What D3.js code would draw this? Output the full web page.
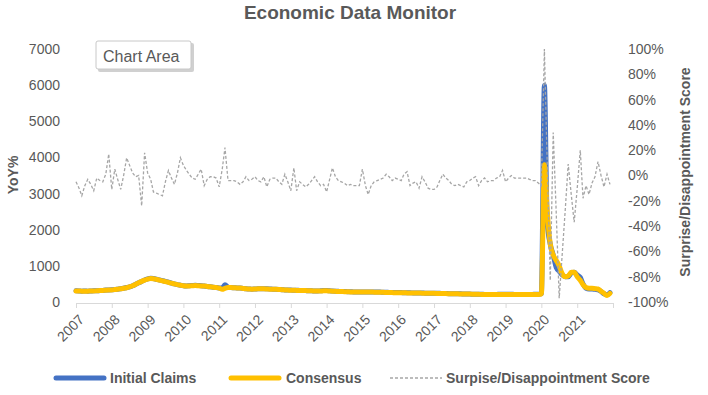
<!DOCTYPE html>
<html>
<head>
<meta charset="utf-8">
<script src="https://cdn.jsdelivr.net/npm/d3@7"></script>
<style>
  body { margin: 0; background: #fff; }
  svg { font-family: "Liberation Sans", Arial, sans-serif; }
</style>
</head>
<body>
<div class="chart"></div>
<script>
// monthly series, Jan 2007 .. Dec 2021 (12 values per row)
const startYear = 2007;

const claims = [
  310,305,300,305,300,305,310,310,315,320,330,335,   // 2007
  340,345,355,365,380,400,420,450,490,530,570,610,   // 2008
  640,655,650,630,610,590,570,550,520,500,480,465,   // 2009
  450,445,450,455,460,455,450,440,430,420,410,400,   // 2010
  390,380,480,410,400,395,390,385,375,365,360,355,   // 2011
  360,365,370,370,365,360,355,350,345,340,335,330,   // 2012
  330,325,325,320,320,315,310,310,305,305,310,315,   // 2013
  315,310,305,300,295,290,290,285,285,280,280,280,   // 2014
  280,280,280,275,275,275,275,270,270,265,265,260,   // 2015
  260,260,255,255,255,250,250,250,250,245,245,245,   // 2016
  240,240,240,235,235,230,230,230,225,225,220,220,   // 2017
  220,215,215,215,215,210,210,210,210,210,215,215,   // 2018
  215,215,215,210,210,210,210,210,210,210,215,215,   // 2019
  230,6000,2200,1600,1300,950,850,750,700,700,800,820, // 2020
  750,680,500,380,360,360,350,340,290,230,200,260    // 2021
];

const consensus = [
  305,305,300,300,300,305,305,310,315,320,325,330,
  335,345,355,365,380,395,420,450,490,530,570,605,
  635,650,645,625,605,585,565,545,520,500,480,465,
  450,445,445,450,455,450,445,440,430,420,410,400,
  385,350,380,400,400,395,390,385,375,365,360,355,
  360,365,365,365,360,355,355,350,345,340,335,330,
  325,325,320,320,315,315,310,310,305,305,305,310,
  310,305,300,295,290,290,285,285,280,280,280,280,
  280,278,275,275,272,270,270,268,265,262,260,258,
  258,255,255,252,250,250,248,248,245,245,242,242,
  240,238,235,235,232,230,228,225,225,222,220,220,
  218,215,212,212,210,210,208,208,208,208,210,210,
  210,210,210,208,208,208,208,208,208,208,210,210,
  220,3800,2500,1600,1300,1150,1000,780,700,720,820,820,
  700,600,480,400,380,380,370,360,300,240,180,240
];

// surprise / disappointment score, in %
const surprise = [
  -5,-10,-16,-8,-3,-7,-12,-2,-4,-5,1,17,
  -11,5,-3,-11,0,14,8,2,-1,0,-24,18,
  2,-3,-13,-14,-15,-16,-5,4,-2,-7,2,14,
  8,4,1,-2,-3,1,5,-8,-3,-1,-1,-2,
  -9,5,22,-4,-4,-4,-5,-7,-5,-1,-4,-3,
  -1,-4,-5,-1,-9,-3,-2,-2,-5,-7,1,-5,
  -12,6,-12,-5,-7,-9,-7,-4,-1,-5,-8,-7,
  -13,-3,6,-1,-4,-5,-6,-8,-7,-8,-8,-8,
  5,-8,-15,-8,-5,-4,-3,-2,1,-1,-4,-2,
  -3,-4,1,3,-8,-6,-5,-10,-1,-5,-10,-11,
  -11,-9,-4,1,-2,-4,-7,-8,-7,-8,-9,-5,
  -4,-2,-1,-8,-4,-2,-5,-4,-4,-2,-1,4,
  -5,-2,0,-2,-2,-2,-2,-2,-3,-4,-4,-6,
  -8,100,8,-83,34,-30,-97,-62,-27,9,-15,-37,
  -10,20,-18,-8,-15,-6,-1,11,0,-9,1,-7
];

const leftTicks = d3.range(0, 7001, 1000);
const rightTicks = d3.range(-1, 1.001, 0.2);
const seriesNames = ["Initial Claims", "Consensus", "Surpise/Disappointment Score"];
const colors = ["#4472C4", "#FFC000", "#A6A6A6"];

const W = 708, H = 395;
const plot = {left: 76, right: 613, top: 49, bottom: 302};
const textColor = "#595959";

const svg = d3.select(".chart").append("svg")
  .attr("width", W).attr("height", H);

const dates = claims.map((d, i) => new Date(startYear, i, 1));

const x = d3.scaleTime()
  .domain([new Date(2007, 0, 1), new Date(2022, 0, 1)])
  .range([plot.left, plot.right]);
const yL = d3.scaleLinear().domain([0, 7000]).range([plot.bottom, plot.top]);
const yR = d3.scaleLinear().domain([-1, 1]).range([plot.bottom, plot.top]);

// title
svg.append("text")
  .attr("x", 350).attr("y", 19)
  .attr("text-anchor", "middle")
  .style("font-size", "19px").style("font-weight", "bold")
  .style("fill", textColor)
  .text("Economic Data Monitor");

// left axis
const yAxisL = svg.append("g")
  .attr("transform", `translate(${plot.left},0)`)
  .call(d3.axisLeft(yL).tickValues(leftTicks).tickSize(0).tickPadding(16)
    .tickFormat(d3.format("d")));
yAxisL.select(".domain").remove();

// right axis
const yAxisR = svg.append("g")
  .attr("transform", `translate(${plot.right},0)`)
  .call(d3.axisRight(yR).tickValues(rightTicks).tickSize(0).tickPadding(15)
    .tickFormat(d => Math.round(d * 100) + "%"));
yAxisR.select(".domain").remove();

// bottom axis
const xAxis = svg.append("g")
  .attr("transform", `translate(0,${plot.bottom + 1})`)
  .call(d3.axisBottom(x).ticks(d3.timeYear.every(1)).tickSizeInner(5).tickSizeOuter(0)
    .tickFormat(d => d.getFullYear() < 2022 ? d3.timeFormat("%Y")(d) : ""));
xAxis.select(".domain").attr("stroke", "#D9D9D9");
xAxis.selectAll(".tick line").attr("stroke", "#D9D9D9");
xAxis.selectAll(".tick text")
  .attr("y", 0).attr("x", 0).attr("dy", "0.35em")
  .attr("transform", "translate(5,14) rotate(-45)")
  .style("text-anchor", "end");

svg.selectAll(".tick text")
  .style("font-size", "14px")
  .style("fill", textColor);

// axis titles
svg.append("text")
  .attr("transform", "translate(18,175) rotate(-90)")
  .attr("text-anchor", "middle")
  .style("font-size", "14px").style("font-weight", "bold").style("fill", textColor)
  .text("YoY%");
svg.append("text")
  .attr("transform", "translate(690,172) rotate(-90)")
  .attr("text-anchor", "middle")
  .style("font-size", "14px").style("font-weight", "bold").style("fill", textColor)
  .text("Surprise/Disappointment Score");

// lines
const lineL = d3.line()
  .x((d, i) => x(dates[i]))
  .y(d => yL(d))
  .curve(d3.curveMonotoneX);
const lineR = d3.line()
  .x((d, i) => x(dates[i]))
  .y(d => yR(d / 100));

svg.append("path").datum(claims)
  .attr("d", lineL)
  .attr("fill", "none").attr("stroke", colors[0])
  .attr("stroke-width", 5).attr("stroke-linejoin", "round").attr("stroke-linecap", "round");
svg.append("path").datum(consensus)
  .attr("d", lineL)
  .attr("fill", "none").attr("stroke", colors[1])
  .attr("stroke-width", 5).attr("stroke-linejoin", "round").attr("stroke-linecap", "round");
svg.append("path").datum(surprise)
  .attr("d", lineR)
  .attr("fill", "none").attr("stroke", colors[2])
  .attr("stroke-width", 1.3).attr("stroke-dasharray", "3,2");

// legend
const legendItems = [
  {name: seriesNames[0], x: 54, tx: 110},
  {name: seriesNames[1], x: 229, tx: 286},
  {name: seriesNames[2], x: 390, tx: 446}
];
const legend = svg.append("g").attr("class", "legend");
legendItems.forEach((item, i) => {
  const g = legend.append("g");
  const ln = g.append("line")
    .attr("x1", item.x).attr("x2", item.x + 52)
    .attr("y1", 378).attr("y2", 378)
    .attr("stroke", colors[i]);
  if (i < 2) ln.attr("stroke-width", 5).attr("stroke-linecap", "round")
    .attr("x1", item.x + 2).attr("x2", item.x + 50);
  else ln.attr("stroke-width", 1.3).attr("stroke-dasharray", "3,2");
  g.append("text")
    .attr("x", item.tx).attr("y", 378).attr("dy", "0.35em")
    .style("font-size", "14px").style("font-weight", "bold").style("fill", textColor)
    .text(item.name);
});

// "Chart Area" hover tip captured in the screenshot
const tip = svg.append("g").attr("transform", "translate(96,41)");
tip.append("rect")
  .attr("x", 2).attr("y", 2).attr("width", 96).attr("height", 29)
  .attr("rx", 2).attr("fill", "#D0D0D0");
tip.append("rect")
  .attr("width", 95).attr("height", 28).attr("rx", 2)
  .attr("fill", "#fff").attr("stroke", "#C8C8C8");
tip.append("text")
  .attr("x", 7).attr("y", 15).attr("dy", "0.35em")
  .style("font-size", "16px").style("fill", textColor)
  .text("Chart Area");
</script>
</body>
</html>
